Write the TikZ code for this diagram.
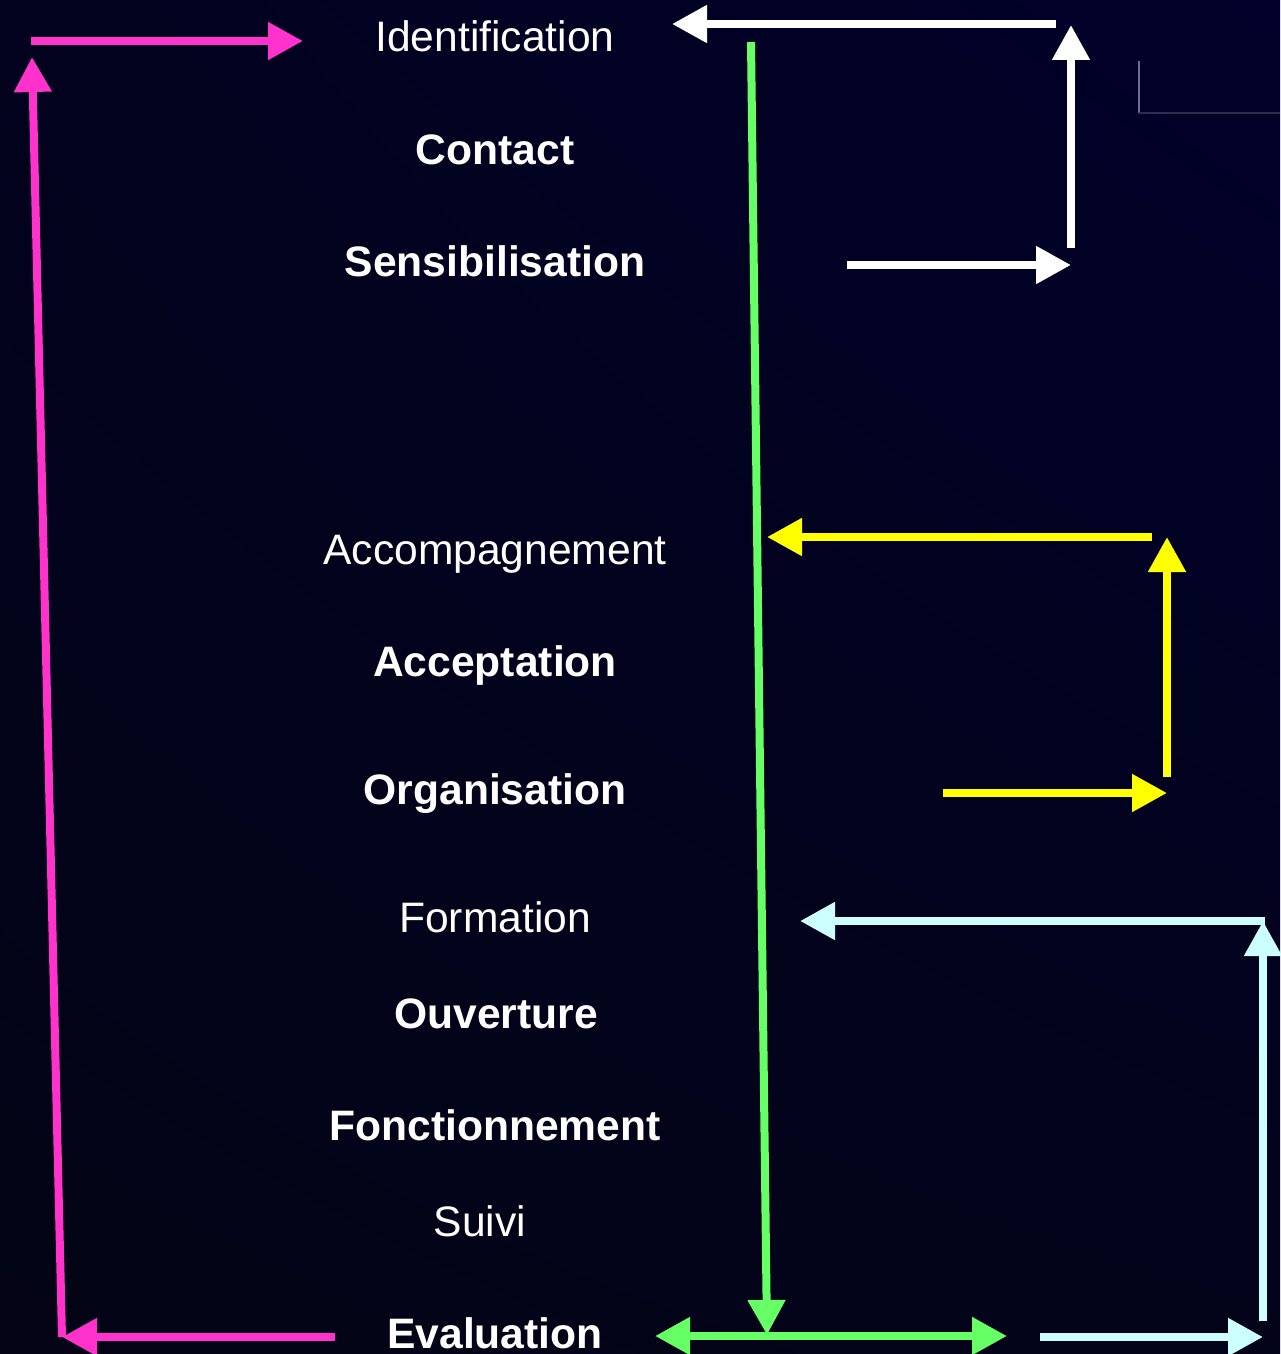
\documentclass[tikz,border=0pt]{standalone}
\usepackage{fontspec}
\setmainfont{Liberation Sans}
\usetikzlibrary{arrows.meta,shadings}
\definecolor{pinkc}{RGB}{255,51,204}
\definecolor{greenc}{RGB}{102,255,102}
\definecolor{yellowc}{RGB}{255,255,0}
\definecolor{cyanc}{RGB}{204,255,255}
\definecolor{bgA}{RGB}{2,2,30}
\definecolor{bgB}{RGB}{0,0,42}
\definecolor{bgC}{RGB}{4,4,22}
\definecolor{bgD}{RGB}{3,3,26}
\definecolor{thinA}{RGB}{110,110,140}
\definecolor{thinB}{RGB}{45,45,80}
\begin{document}
\begin{tikzpicture}[x=1pt,y=-1pt,
  lbl/.style={text=white,font=\fontsize{42.6pt}{50pt}\selectfont,inner sep=0pt,anchor=base},
  blbl/.style={lbl,font=\fontsize{42.6pt}{50pt}\selectfont\bfseries},
  arr/.style={line width=8pt,-{Triangle[length=35pt,width=36pt]}},
  darr/.style={line width=8pt,{Triangle[length=35pt,width=36pt]}-{Triangle[length=35pt,width=36pt]}}]
\useasboundingbox (0,0) rectangle (1280,1354);
\shade[upper left=bgA,upper right=bgB,lower left=bgC,lower right=bgD] (0,0) rectangle (1280,1354);
% thin lines top right
\draw[thinA,line width=1.2pt] (1139,61) -- (1139,113);
\draw[thinB,line width=1.2pt] (1139,113) -- (1280,113);
% labels
\node[lbl]  (ident) at (495,52)   {Identification};
\node[blbl] (cont)  at (495,164)  {Contact};
\node[blbl] (sens)  at (495,276)  {Sensibilisation};
\node[lbl]  (acc)   at (495,564)  {Accompagnement};
\node[blbl] (accep) at (495,676)  {Acceptation};
\node[blbl] (org)   at (495,804)  {Organisation};
\node[lbl]  (form)  at (495,932)  {Formation};
\node[blbl] (ouv)   at (496,1028) {Ouverture};
\node[blbl] (fonc)  at (495,1140) {Fonctionnement};
\node[lbl]  (suivi) at (480,1236) {Suivi};
\node[blbl] (eval)  at (495,1348) {Evaluation};
% coordinates
\coordinate (p1) at (31,41);   \coordinate (p2) at (303,41);
\coordinate (p3) at (62,1337); \coordinate (p4) at (32,57);
\coordinate (p5) at (335,1337);\coordinate (p6) at (62,1337);
\coordinate (w1) at (1056,24); \coordinate (w2) at (672,24);
\coordinate (w3) at (1071,248);\coordinate (w4) at (1071,25);
\coordinate (w5) at (847,265); \coordinate (w6) at (1071,265);
\coordinate (g1) at (751,42);  \coordinate (g2) at (767,1335);
\coordinate (g3) at (655,1336);\coordinate (g4) at (1007,1336);
\coordinate (y1) at (1152,537);\coordinate (y2) at (767,537);
\coordinate (y3) at (1167,777);\coordinate (y4) at (1167,537);
\coordinate (y5) at (943,793); \coordinate (y6) at (1167,793);
\coordinate (c1) at (1265,921);\coordinate (c2) at (800,921);
\coordinate (c3) at (1263,1321);\coordinate (c4) at (1263,921);
\coordinate (c5) at (1040,1337);\coordinate (c6) at (1263,1337);
% pink
\draw[arr,pinkc] (p1) -- (p2);
\draw[arr,pinkc] (p3) -- (p4);
\draw[arr,pinkc] (p5) -- (p6);
% white
\draw[arr,white] (w1) -- (w2);
\draw[arr,white] (w3) -- (w4);
\draw[arr,white] (w5) -- (w6);
% green
\draw[arr,greenc] (g1) -- (g2);
\draw[darr,greenc] (g3) -- (g4);
% yellow
\draw[arr,yellowc] (y1) -- (y2);
\draw[arr,yellowc] (y3) -- (y4);
\draw[arr,yellowc] (y5) -- (y6);
% cyan
\draw[arr,cyanc] (c1) -- (c2);
\draw[arr,cyanc] (c3) -- (c4);
\draw[arr,cyanc] (c5) -- (c6);
\end{tikzpicture}
\end{document}
